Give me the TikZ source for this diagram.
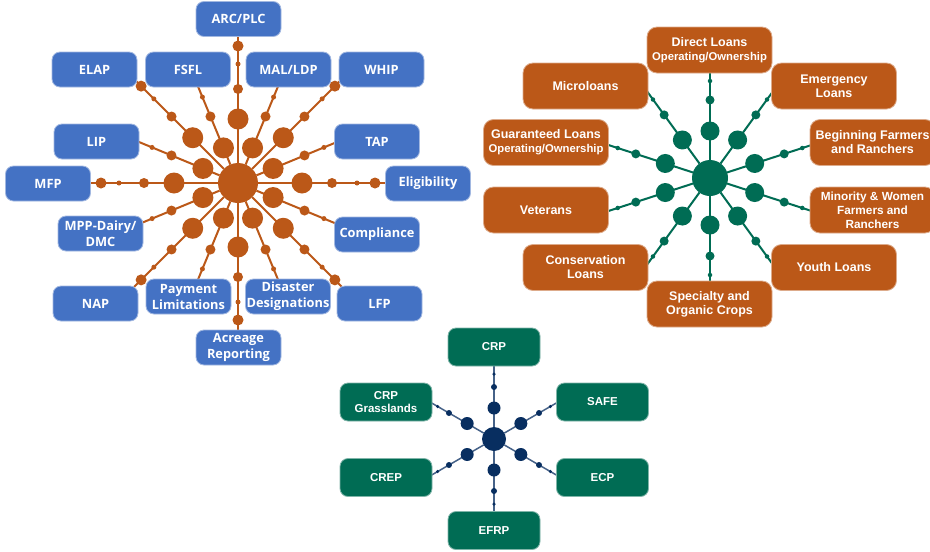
\documentclass[tikz,border=0pt]{standalone}
\usepackage{fontspec}
\setmainfont{Liberation Sans}
\newfontfamily\carlfont{Open Sans}
\usetikzlibrary{calc}
\definecolor{fsablue}{RGB}{68,114,196}
\definecolor{fsaorange}{RGB}{187,88,24}
\definecolor{fsagreen}{RGB}{0,108,84}
\definecolor{fsanavy}{RGB}{8,46,96}
\newcommand\subfnt{\fontsize{11.3}{13}\selectfont}
\begin{document}
\begin{tikzpicture}[x=1pt,y=-1pt,
  bluebox/.style={rectangle, rounded corners=8pt, fill=fsablue, draw=fsablue!50!white, line width=0.8pt, text=white, align=center, inner sep=0pt, minimum width=85pt, minimum height=35pt, font=\carlfont\bfseries\fontsize{12.8}{16}\selectfont},
  orangebox/.style={rectangle, rounded corners=10pt, fill=fsaorange, draw=fsaorange!50!white, line width=0.8pt, text=white, align=center, inner sep=0pt, minimum width=125pt, minimum height=46pt, font=\bfseries\fontsize{12.5}{14}\selectfont},
  greenbox/.style={rectangle, rounded corners=8pt, fill=fsagreen, draw=fsagreen!50!white, line width=0.8pt, text=white, align=center, inner sep=0pt, minimum width=92pt, minimum height=38pt, font=\bfseries\fontsize{11.5}{13}\selectfont},
  ball/.style={circle, inner sep=0pt, outer sep=0pt, minimum size=#1},
  oball/.style={ball=#1, fill=fsaorange},
  gball/.style={ball=#1, fill=fsagreen},
  nball/.style={ball=#1, fill=fsanavy},
  oline/.style={draw=fsaorange, line width=2pt},
  gline/.style={draw=fsagreen, line width=2pt},
  nline/.style={draw=fsanavy!75!white, line width=1.5pt}
]
\useasboundingbox[fill=white] (0,0) rectangle (930,552);

% ================= left cluster =================
\node[oball=40] (hubL) at (238,183) {};
\foreach \a [count=\k] in {0,45,...,315}
  \coordinate (Llong-end-\k) at ($(hubL.center)+(\a:147)$);
\foreach \a [count=\k] in {22.5,67.5,...,337.5}
  \coordinate (Lshort-end-\k) at ($(hubL.center)+(\a:110)$);
\foreach \k in {1,...,8} {
  \draw[oline] (hubL) -- (Llong-end-\k);
  \draw[oline] (hubL) -- (Lshort-end-\k);
}

\node[bluebox] (arc)   at (238.5,19)   {ARC/PLC};
\node[bluebox] (elap)  at (94.5,69.5)  {ELAP};
\node[bluebox] (fsfl)  at (188,69.5)   {FSFL};
\node[bluebox] (mal)   at (288.5,69.5) {MAL/LDP};
\node[bluebox] (whip)  at (381.5,69.5) {WHIP};
\node[bluebox] (lip)   at (96.5,141.5) {LIP};
\node[bluebox] (tap)   at (377,141.5)  {TAP};
\node[bluebox] (mfp)   at (48,183.5)   {MFP};
\node[bluebox] (elig)  at (428,183.5)  {Eligibility};
\node[bluebox] (mpp)   at (100.5,233.5){MPP-Dairy/\\DMC};
\node[bluebox] (comp)  at (377,234.5)  {Compliance};
\node[bluebox] (nap)   at (95.5,303.5) {NAP};
\node[bluebox] (pay)   at (188.5,296.5){Payment\\Limitations};
\node[bluebox] (dis)   at (288,296.5)  {Disaster\\Designations};
\node[bluebox] (lfp)   at (379.5,303.5){LFP};
\node[bluebox] (acre)  at (238.5,347.5){Acreage\\Reporting};

\foreach \a [count=\k] in {0,45,...,315} {
  \node[oball=21] (Llong-big-\k) at ($(hubL.center)+(\a:64)$) {};
  \node[oball=10] (Llong-mid-\k) at ($(hubL.center)+(\a:94)$) {};
  \node[oball=5]  (Llong-sml-\k) at ($(hubL.center)+(\a:119)$) {};
  \node[oball=11] (Llong-tip-\k) at ($(hubL.center)+(\a:137)$) {};
}
\foreach \a [count=\k] in {22.5,67.5,...,337.5} {
  \node[oball=21] (Lshort-big-\k) at ($(hubL.center)+(\a:38)$) {};
  \node[oball=10] (Lshort-mid-\k) at ($(hubL.center)+(\a:72)$) {};
  \node[oball=5]  (Lshort-sml-\k) at ($(hubL.center)+(\a:93)$) {};
}

% ================= right cluster =================
\node[gball=36] (hubR) at (710,178) {};
\foreach \a [count=\k] in {18,54,...,342} {
  \coordinate (R-end-\k) at ($(hubR.center)+(\a:110)$);
  \draw[gline] (hubR) -- (R-end-\k);
}
\node[orangebox] (direct) at (709.5,50)  {Direct Loans\\{\subfnt Operating/Ownership}};
\node[orangebox] (micro)  at (585.5,86)  {Microloans};
\node[orangebox] (emerg)  at (834,86)    {Emergency\\Loans};
\node[orangebox] (guar)   at (546,142.5) {Guaranteed Loans\\{\subfnt Operating/Ownership}};
\node[orangebox] (begin)  at (872.5,142.5) {Beginning Farmers\\and Ranchers};
\node[orangebox] (vet)    at (546,210)   {Veterans};
\node[orangebox, font=\bfseries\fontsize{11.8}{14}\selectfont] (minor) at (872.5,210) {Minority \& Women\\Farmers and\\Ranchers};
\node[orangebox] (cons)   at (585.5,267.5) {Conservation\\Loans};
\node[orangebox] (youth)  at (834,267.5) {Youth Loans};
\node[orangebox] (spec)   at (709.5,304) {Specialty and\\Organic Crops};
\foreach \a [count=\k] in {18,54,...,342} {
  \node[gball=19]  (R-big-\k) at ($(hubR.center)+(\a:47)$) {};
  \node[gball=9]   (R-mid-\k) at ($(hubR.center)+(\a:78)$) {};
  \node[gball=4.5] (R-sml-\k) at ($(hubR.center)+(\a:97)$) {};
}

% ================= bottom cluster =================
\node[nball=24] (hubB) at (494,439) {};
\foreach \a [count=\k] in {30,90,...,330} {
  \coordinate (B-end-\k) at ($(hubB.center)+(\a:78)$);
  \draw[nline] (hubB) -- (B-end-\k);
}
\node[greenbox] (crp)   at (494,347)   {CRP};
\node[greenbox] (crpg)  at (386,402)   {CRP\\Grasslands};
\node[greenbox] (safe)  at (602.5,402) {SAFE};
\node[greenbox] (crep)  at (386,477.5) {CREP};
\node[greenbox] (ecp)   at (602.5,477.5) {ECP};
\node[greenbox] (efrp)  at (494,530.5) {EFRP};
\foreach \a [count=\k] in {30,90,...,330} {
  \node[nball=13]  (B-big-\k) at ($(hubB.center)+(\a:31)$) {};
  \node[nball=6]   (B-mid-\k) at ($(hubB.center)+(\a:52)$) {};
  \node[nball=3.5] (B-sml-\k) at ($(hubB.center)+(\a:65)$) {};
}
\end{tikzpicture}
\end{document}
